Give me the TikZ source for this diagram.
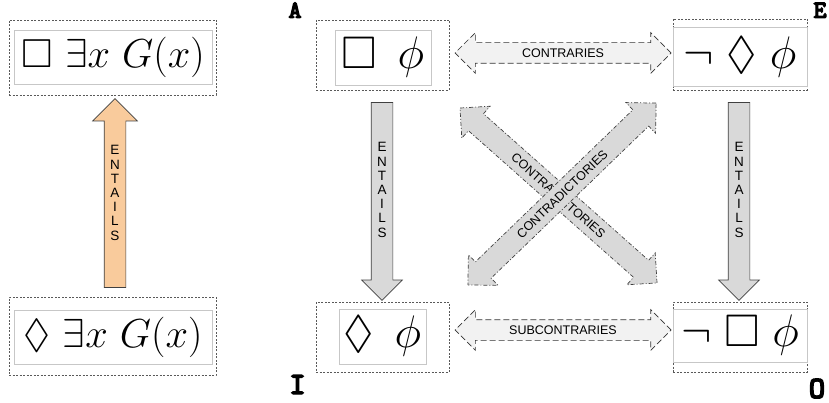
\documentclass[tikz,border=0pt]{standalone}
\usepackage{amssymb}
\usepackage{graphicx}
\usepackage{fontspec}
\usetikzlibrary{shapes.arrows}
\newfontfamily\arrowfont{Liberation Sans}
\newfontfamily\cornerfont{lmmonolt10-bold.otf}[FakeBold=4]

\definecolor{peach}{HTML}{F9CB9C}
\definecolor{arrowgray}{HTML}{D9D9D9}
\definecolor{palegray}{HTML}{F2F2F2}
\definecolor{edgegray}{HTML}{404040}

\tikzset{
  outerbox/.style={draw=black!65, dash pattern=on 2pt off 1.5pt, line width=0.6pt, inner sep=0pt},
  innerbox/.style={draw=black!22, line width=0.8pt, inner sep=0pt},
  formula/.style={inner sep=0pt},
  corner/.style={inner sep=0pt, anchor=base, font=\cornerfont\fontsize{25}{25}\selectfont},
  bigcorner/.style={corner, font=\cornerfont\fontsize{31}{31}\selectfont},
  stacked/.style={inner sep=0pt, align=center, font=\arrowfont\fontsize{13.5}{14.2}\selectfont},
  entailsarrow/.style={single arrow, single arrow tip angle=90, single arrow head extend=9.5pt,
    minimum width=40pt, inner sep=0pt, text height=21pt, text depth=0pt,
    draw=edgegray, line width=0.7pt, fill=arrowgray},
  peacharrow/.style={entailsarrow, single arrow head extend=11.5pt, minimum width=44pt, fill=peach},
  fatdouble/.style={double arrow, double arrow tip angle=90, double arrow head extend=10pt,
    minimum width=40pt, inner sep=0pt, text height=14.5pt, text depth=5.5pt,
    draw=black!80, line width=0.7pt, fill=palegray,
    dash pattern=on 6pt off 3pt, font=\arrowfont\fontsize{12.5}{14}\selectfont},
  crossarrow/.style={double arrow, double arrow tip angle=90, double arrow head extend=10pt,
    minimum width=42pt, inner sep=0pt, text height=15.5pt, text depth=6.5pt,
    draw=edgegray, line width=0.7pt, fill=arrowgray,
    dash pattern=on 4pt off 2pt on 1pt off 2pt, font=\arrowfont\fontsize{12.5}{14}\selectfont},
}

\newcommand{\bigform}[1]{\fontsize{20.74}{24}\selectfont\scalebox{1.95}{$#1$}}
\newcommand{\sqform}[1]{\fontsize{20.74}{24}\selectfont\scalebox{2.2}{$#1$}}

\begin{document}
\begin{tikzpicture}[x=1pt, y=-1pt]
  \useasboundingbox (0,0) rectangle (829,403);

  % left column: necessary / possible existence
  \node[outerbox, minimum width=207pt, minimum height=75pt] (necout) at (112.5,57.5) {};
  \node[innerbox, minimum width=198pt, minimum height=54pt] (necin) at (113,57) {};
  \node[formula] (nec) at (necin.center) {\bigform{\square\ \exists x\ G(x)}};

  \node[outerbox, minimum width=207pt, minimum height=78pt] (posout) at (112.5,336) {};
  \node[innerbox, minimum width=198pt, minimum height=54pt] (posin) at (113,337) {};
  \node[formula] (pos) at (posin.center) {\bigform{\lozenge\ \exists x\ G(x)}};

  \node[peacharrow, minimum height=189pt, rotate=90] (entleft) at (115,198.5) {};
  \node[stacked] (entlefttxt) at (115,193) {E\\N\\T\\A\\I\\L\\S};

  % square of opposition
  \node[outerbox, minimum width=133pt, minimum height=70pt] (Aout) at (382.5,55) {};
  \node[innerbox, minimum width=96pt, minimum height=55pt] (Ain) at (383,57.5) {};
  \node[formula] (Af) at (Ain.center) {\sqform{\square\;\,\phi}};

  \node[outerbox, minimum width=134pt, minimum height=71pt] (Eout) at (740,54.5) {};
  \node[innerbox, minimum width=134pt, minimum height=59pt] (Ein) at (740,57) {};
  \node[formula] (Ef) at (Ein.center) {\sqform{\neg\;\lozenge\;\phi}};

  \node[outerbox, minimum width=133pt, minimum height=70pt] (Iout) at (382.5,337) {};
  \node[innerbox, minimum width=87pt, minimum height=55pt] (Iin) at (382.5,336.5) {};
  \node[formula] (If) at (Iin.center) {\sqform{\lozenge\;\,\phi}};

  \node[outerbox, minimum width=134pt, minimum height=70pt] (Oout) at (740,337) {};
  \node[innerbox, minimum width=134pt, minimum height=53pt] (Oin) at (740,335.5) {};
  \node[formula] (Of) at (Oin.center) {\sqform{\neg\;\square\;\phi}};

  \node[corner] (Alab) at (295,18) {A};
  \node[corner] (Elab) at (820,18) {E};
  \node[bigcorner] (Ilab) at (297.5,394) {I};
  \node[bigcorner] (Olab) at (817,398) {O};

  % relations
  \node[fatdouble, minimum height=216pt] (contrary) at (563,53) {CONTRARIES};
  \node[fatdouble, minimum height=216pt] (subcontrary) at (563,330) {SUBCONTRARIES};

  \node[entailsarrow, minimum height=198pt, rotate=-90] (entAI) at (382,196) {};
  \node[stacked] at (382,190) {E\\N\\T\\A\\I\\L\\S};
  \node[entailsarrow, minimum height=198pt, rotate=-90] (entEO) at (739,196) {};
  \node[stacked] at (739,190) {E\\N\\T\\A\\I\\L\\S};

  \node[crossarrow, minimum height=263.5pt, rotate=-41.6] (contrAO) at (558.5,195.5) {CONTRADICTORIES};
  \node[crossarrow, minimum height=261.7pt, rotate=44] (contrEI) at (562,194) {CONTRADICTORIES};
\end{tikzpicture}
\end{document}
